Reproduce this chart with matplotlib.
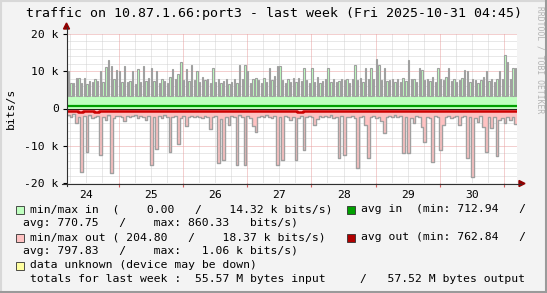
import numpy as np
import matplotlib
matplotlib.use('Agg')
import matplotlib.pyplot as plt
from matplotlib.patches import Rectangle, Polygon

W, H = 547, 293

# hourly maxima in k bits/s, window starts Fri 24 Oct 04:45
in_max = [10.2, 6.8, 6.9, 8.3, 8.3, 6.8, 8.3, 6.6, 7.4, 7.2, 7.8, 7.5, 10.2, 7.2, 11.2, 13.0, 11.5, 8.0, 10.4, 10.0, 7.2, 11.5, 7.0, 7.5,
          10.2, 6.6, 10.5, 7.0, 11.4, 7.4, 8.2, 11.0, 7.4, 10.2, 6.8, 8.0, 7.4, 6.9, 8.5, 10.6, 7.8, 9.2, 12.5, 7.6, 10.7, 7.4, 11.7, 7.6,
          10.0, 7.1, 8.4, 7.6, 8.0, 6.9, 10.8, 7.2, 7.8, 6.8, 7.5, 7.9, 6.6, 7.2, 7.9, 6.8, 11.7, 8.0, 11.7, 10.0, 6.8, 7.8, 8.2, 7.6,
          6.8, 8.2, 7.2, 10.8, 7.6, 8.6, 11.3, 11.3, 7.7, 6.8, 7.8, 7.0, 8.3, 7.2, 8.2, 7.4, 11.0, 7.6, 6.8, 11.0, 7.1, 8.5, 6.9, 7.4,
          8.0, 11.0, 7.1, 8.0, 7.2, 7.4, 8.0, 7.6, 7.8, 6.9, 8.0, 11.7, 7.6, 8.2, 7.0, 11.0, 7.8, 11.0, 8.0, 13.2, 11.7, 7.6, 11.0, 7.4,
          7.6, 8.0, 7.2, 7.9, 7.0, 8.2, 7.4, 13.0, 7.8, 8.0, 7.2, 10.8, 10.4, 7.6, 8.0, 7.4, 8.4, 7.0, 10.8, 8.0, 7.6, 8.4, 10.8, 7.4,
          8.0, 7.0, 7.6, 8.2, 10.3, 10.2, 7.2, 8.0, 7.6, 6.8, 7.6, 8.4, 10.0, 7.4, 7.8, 7.0, 8.0, 10.0, 8.0, 14.3, 12.6, 8.0, 11.0, 11.0]
in_floor = 3.4

out_max = [-1.8, -2.2, -1.6, -3.9, -2.4, -17.0, -2.0, -11.6, -1.8, -2.6, -2.2, -1.9, -12.5, -2.4, -3.2, -1.8, -17.2, -2.6, -2.0, -1.9, -2.4, -3.4, -2.0, -2.2,
           -2.0, -1.8, -2.6, -1.9, -2.3, -3.0, -2.1, -15.3, -2.4, -11.0, -2.0, -2.6, -1.8, -2.2, -11.6, -2.4, -2.0, -9.5, -2.6, -1.9, -4.7, -2.2, -2.0, -2.4,
           -1.9, -2.2, -2.6, -2.0, -2.4, -5.5, -2.2, -2.0, -14.6, -2.8, -13.8, -2.2, -4.4, -2.0, -2.4, -15.3, -1.8, -2.2, -15.3, -2.0, -2.6, -4.8, -6.2, -2.4,
           -2.0, -2.4, -1.8, -2.2, -2.6, -2.0, -15.2, -2.4, -13.8, -2.0, -2.2, -3.0, -2.4, -13.8, -2.6, -2.0, -11.2, -2.2, -1.9, -2.4, -4.4, -2.8, -2.0, -2.2,
           -2.0, -2.4, -1.8, -2.6, -2.2, -13.3, -2.0, -12.5, -2.4, -2.2, -1.9, -2.6, -15.9, -2.2, -2.0, -4.4, -13.2, -2.4, -2.0, -2.6, -2.2, -3.4, -6.6, -2.4,
           -2.0, -2.2, -1.8, -2.4, -2.0, -12.0, -2.2, -12.0, -2.6, -3.9, -2.0, -2.4, -5.0, -8.9, -2.2, -2.6, -14.3, -2.0, -2.4, -11.1, -4.4, -2.2, -2.0, -2.6,
           -2.2, -2.0, -4.4, -2.4, -2.0, -13.4, -2.2, -18.4, -2.6, -3.6, -2.0, -5.0, -11.6, -2.4, -5.2, -2.2, -12.8, -3.2, -2.6, -3.8, -2.4, -3.0, -2.2, -4.2]

# 2-hourly averages in k bits/s
avg_in = [0.77, 0.76, 0.78, 0.77, 0.75, 0.77, 0.78, 0.76, 0.77, 0.79, 0.77, 0.76,
          0.78, 0.77, 0.76, 0.77, 0.78, 0.77, 0.75, 0.77, 0.78, 0.76, 0.77, 0.77,
          0.76, 0.78, 0.77, 0.77, 0.76, 0.78, 0.77, 0.76, 0.77, 0.78, 0.77, 0.76,
          0.77, 0.78, 0.76, 0.77, 0.77, 0.78, 0.76, 0.77, 0.78, 0.77, 0.76, 0.77,
          0.78, 0.77, 0.76, 0.77, 0.78, 0.77, 0.76, 0.77, 0.78, 0.76, 0.77, 0.77,
          0.76, 0.78, 0.77, 0.77, 0.76, 0.78, 0.77, 0.76, 0.77, 0.78, 0.77, 0.76,
          0.77, 0.78, 0.76, 0.77, 0.77, 0.78, 0.76, 0.77, 0.78, 0.77, 0.80, 0.79]
avg_out = [0.80, 0.79, 1.06, 0.79, 0.80, 1.02, 0.79, 0.80, 0.79, 0.80, 0.79, 0.80,
           0.79, 0.80, 0.79, 0.80, 0.79, 0.80, 0.79, 0.80, 0.79, 0.80, 0.79, 0.80,
           0.79, 0.80, 0.79, 0.80, 0.79, 0.80, 0.79, 0.80, 0.79, 0.80, 0.79, 0.80,
           0.79, 0.80, 0.79, 0.80, 0.79, 0.80, 0.79, 0.98, 0.80, 0.79, 0.80, 0.79,
           0.80, 0.79, 0.80, 0.79, 0.80, 0.79, 0.80, 0.79, 0.80, 0.79, 0.80, 0.79,
           0.80, 0.79, 0.80, 0.79, 0.80, 0.79, 0.80, 0.79, 0.80, 0.79, 0.80, 0.79,
           0.80, 0.79, 0.80, 0.79, 0.80, 0.79, 0.80, 0.79, 0.80, 0.79, 0.80, 0.79]

days = ['24', '25', '26', '27', '28', '29', '30']
first_midnight = 19.25   # hours from window start to 25 Oct 00:00
yticks = [-20, -10, 0, 10, 20]
ylabels = ['-20 k', '-10 k', '0', '10 k', '20 k']

title = 'traffic on 10.87.1.66:port3 - last week (Fri 2025-10-31 04:45)'
leg_in = 'min/max in  (    0.00   /    14.32 k bits/s)'
leg_avgin = 'avg in  (min: 712.94   /'
leg_avgin2 = 'avg: 770.75   /    max: 860.33   bits/s)'
leg_out = 'min/max out ( 204.80   /    18.37 k bits/s)'
leg_avgout = 'avg out (min: 762.84   /'
leg_avgout2 = 'avg: 797.83   /    max:   1.06 k bits/s)'
leg_unk = 'data unknown (device may be down)'
leg_tot = 'totals for last week :  55.57 M bytes input     /   57.52 M bytes output'

c_in = '#bfffbf'
c_out = '#ffc2c2'
c_gray = '#a0a0a0'
c_avgin = '#00a000'
c_avgout = '#cc0000'

plt.rcParams['font.family'] = 'DejaVu Sans Mono'
fs = 8.2

fig = plt.figure(figsize=(W / 100, H / 100), dpi=100)
fig.patch.set_facecolor('#f3f3f3')

X0, X1, YT, YB = 67, 517, 34, 183
ax = fig.add_axes([X0 / W, 1 - YB / H, (X1 - X0) / W, (YB - YT) / H])
ax.set_facecolor('white')
ax.set_xlim(0, 168)
ax.set_ylim(-20, 20)
for s in ax.spines.values():
    s.set_visible(False)

# grid
for v in range(-18, 20, 2):
    if v % 10:
        ax.axhline(v, color='#d2d2d2', lw=0.72, ls=(0, (1, 1)), zorder=0.5)
for v in [-10, 0, 10, 20]:
    ax.axhline(v, color='#e8a0a0', lw=0.72, ls=(0, (1, 1)), zorder=0.6)
midnights = [first_midnight + 24 * i for i in range(7)]
for t in np.arange(first_midnight % 6, 168, 6):
    if t not in midnights:
        ax.axvline(t, color='#d2d2d2', lw=0.72, ls=(0, (1, 1)), zorder=0.5)
for t in midnights:
    ax.axvline(t, color='#e8a0a0', lw=0.72, ls=(0, (1, 1)), zorder=0.6)

# in
hrs = np.arange(len(in_max))
ax.fill_between([0, 168], 0, in_floor, color=c_in, lw=0, zorder=1)
ax.bar(hrs + 0.5, np.array(in_max) - in_floor, bottom=in_floor, width=0.5,
       color=c_in, edgecolor=c_gray, linewidth=0.8, zorder=2)

# out
xs = np.arange(len(out_max) + 1)
ys = np.append(out_max, out_max[-1])
ax.fill_between(xs, 0, ys, step='post', color=c_out, lw=0, zorder=1)
ax.step(xs, ys, where='post', color=c_gray, lw=1.0, zorder=2)

# averages
xa = np.arange(len(avg_in) + 1) * 2
ax.step(xa, np.append(avg_in, avg_in[-1]), where='post', color=c_avgin, lw=1.6, zorder=4)
ax.axhline(0, color='black', lw=0.6, zorder=4)
ax.step(xa, -np.append(avg_out, avg_out[-1]), where='post', color=c_avgout, lw=1.8, zorder=4)

ax.set_yticks(yticks, ylabels)
ax.tick_params(axis='y', length=3, width=0.8, pad=3, labelsize=fs, colors='black')
noons = [m - 12 for m in midnights]
ax.set_xticks(noons, days)
ax.tick_params(axis='x', length=0, pad=5, labelsize=fs)
ax.set_xticks(midnights, minor=True)
ax.tick_params(axis='x', which='minor', length=3, width=0.8, color='#d06060')

# overlay in pixel coordinates
ov = fig.add_axes([0, 0, 1, 1], facecolor='none')
ov.set_xlim(0, W)
ov.set_ylim(H, 0)
ov.axis('off')

ov.plot([66.5, 66.5], [186, 27], color='#303030', lw=0.8)
ov.plot([62, 521], [183.5, 183.5], color='#303030', lw=0.8)
ov.add_patch(Polygon([(63.5, 29), (69.5, 29), (66.5, 23)], color='#900000'))
ov.add_patch(Polygon([(519, 180.5), (519, 186.5), (525, 183.5)], color='#900000'))

# frame
ov.plot([1, 1], [0, H], color='#d8d8d8', lw=1.5)
ov.plot([0, W], [1, 1], color='#d8d8d8', lw=1.5)
ov.plot([W - 1, W - 1], [0, H], color='#9a9a9a', lw=1.5)
ov.plot([0, W], [H - 1, H - 1], color='#9a9a9a', lw=1.5)

ov.text(26, 13.5, title, fontsize=9.5, va='center', ha='left', color='black')
ov.text(540, 6, 'RRDTOOL / TOBI OETIKER', rotation=270, va='top', ha='center',
        fontsize=5.8, color='#b4b4b4')
ov.text(11, 108, 'bits/s', rotation=90, va='center', ha='center', fontsize=fs)

rows = [209.5, 223.5, 237.5, 251.5, 265.5, 279.5]
boxes = [(15.5, rows[0], c_in), (346.5, rows[0], c_avgin), (15.5, rows[2], c_out),
         (346.5, rows[2], '#b00000'), (15.5, rows[4], '#ffff9f')]
for bx, by, bc in boxes:
    ov.add_patch(Rectangle((bx, by - 4), 8, 8, facecolor=bc, edgecolor='#303030', lw=0.6))

ov.text(30, rows[0], leg_in, fontsize=fs, va='center')
ov.text(361, rows[0], leg_avgin, fontsize=fs, va='center')
ov.text(23, rows[1], leg_avgin2, fontsize=fs, va='center')
ov.text(30, rows[2], leg_out, fontsize=fs, va='center')
ov.text(361, rows[2], leg_avgout, fontsize=fs, va='center')
ov.text(23, rows[3], leg_avgout2, fontsize=fs, va='center')
ov.text(30, rows[4], leg_unk, fontsize=fs, va='center')
ov.text(30, rows[5], leg_tot, fontsize=fs, va='center')

fig.savefig('out.png', dpi=100, facecolor=fig.get_facecolor())
